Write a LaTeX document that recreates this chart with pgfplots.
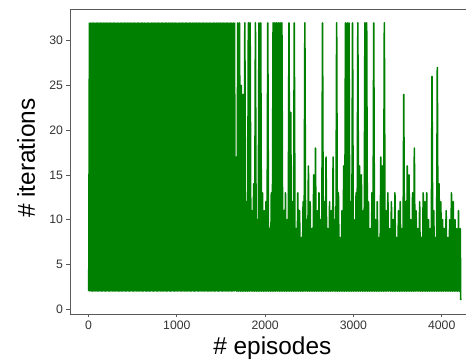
\documentclass[border=0pt]{standalone}
\usepackage{pgfplots}
\pgfplotsset{compat=1.18}
\usepackage{fontspec}
\setmainfont{Liberation Sans}
\definecolor{mplgreen}{RGB}{0,128,0}
\begin{document}
\begin{tikzpicture}
\useasboundingbox (-70bp,-48bp) rectangle (396bp,314bp);
\begin{axis}[
  anchor=south west, at={(0,0)},
  scale only axis, width=396bp, height=305bp,
  xmin=-210, xmax=4275, ymin=-0.55, ymax=33.55,
  axis y line*=left,
  xtick pos=bottom, ytick pos=left,
  tick align=outside,
  major tick length=3.5bp,
  xtick={0,1000,2000,3000,4000},
  ytick={0,5,10,15,20,25,30},
  minor tick num=0,
  axis line style={-, black!65, line width=0.8bp},
  every tick/.style={black!65, line width=0.8bp},
  tick label style={font=\fontsize{12.3}{14}\selectfont, text=black!80},
  /pgf/number format/assume math mode=true,
  /pgf/number format/1000 sep={},
  scaled ticks=false,
  xlabel={\# episodes}, ylabel={\# iterations},
  label style={font=\fontsize{24.5}{28}\selectfont},
  xlabel style={at={(axis description cs:0.511,-0.134)}, anchor=base},
  ylabel style={at={(axis description cs:-0.111,0.511)}, anchor=center},
]
% dense early phase (0 - 1656)
\addplot[mplgreen, line width=1.2bp, line join=round] coordinates {
(0,2)(8,32)(16,2)(24,32)(32,2)(40,32)(48,2)(56,32)(64,2)(72,32)
(80,2)(88,32)(96,2)(104,32)(112,2)(120,32)(128,2)(136,32)(144,2)(152,32)
(160,2)(168,32)(176,2)(184,32)(192,2)(200,32)(208,2)(216,32)(224,2)(232,32)
(240,2)(248,32)(256,2)(264,32)(272,2)(280,32)(288,2)(296,32)(304,2)(312,32)
(320,2)(328,32)(336,2)(344,32)(352,2)(360,32)(368,2)(376,32)(384,2)(392,32)
(400,2)(408,32)(416,2)(424,32)(432,2)(440,32)(448,2)(456,32)(464,2)(472,32)
(480,2)(488,32)(496,2)(504,32)(512,2)(520,32)(528,2)(536,32)(544,2)(552,32)
(560,2)(568,32)(576,2)(584,32)(592,2)(600,32)(608,2)(616,32)(624,2)(632,32)
(640,2)(648,32)(656,2)(664,32)(672,2)(680,32)(688,2)(696,32)(704,2)(712,32)
(720,2)(728,32)(736,2)(744,32)(752,2)(760,32)(768,2)(776,32)(784,2)(792,32)
(800,2)(808,32)(816,2)(824,32)(832,2)(840,32)(848,2)(856,32)(864,2)(872,32)
(880,2)(888,32)(896,2)(904,32)(912,2)(920,32)(928,2)(936,32)(944,2)(952,32)
(960,2)(968,32)(976,2)(984,32)(992,2)(1000,32)(1008,2)(1016,32)(1024,2)(1032,32)
(1040,2)(1048,32)(1056,2)(1064,32)(1072,2)(1080,32)(1088,2)(1096,32)(1104,2)(1112,32)
(1120,2)(1128,32)(1136,2)(1144,32)(1152,2)(1160,32)(1168,2)(1176,32)(1184,2)(1192,32)
(1200,2)(1208,32)(1216,2)(1224,32)(1232,2)(1240,32)(1248,2)(1256,32)(1264,2)(1272,32)
(1280,2)(1288,32)(1296,2)(1304,32)(1312,2)(1320,32)(1328,2)(1336,32)(1344,2)(1352,32)
(1360,2)(1368,32)(1376,2)(1384,32)(1392,2)(1400,32)(1408,2)(1416,32)(1424,2)(1432,32)
(1440,2)(1448,32)(1456,2)(1464,32)(1472,2)(1480,32)(1488,2)(1496,32)(1504,2)(1512,32)
(1520,2)(1528,32)(1536,2)(1544,32)(1552,2)(1560,32)(1568,2)(1576,32)(1584,2)(1592,32)
(1600,2)(1608,32)(1616,2)(1624,32)(1632,2)(1640,32)(1648,2)(1656,32)(1662,2)
};
% later phase (1660 - 4215)
\addplot[mplgreen, line width=1.6bp, line join=round] coordinates {
(1660,2)(1670,17)(1680,2)(1690,32)(1700,2)(1710,32)(1720,2)(1730,25)(1740,2)(1750,24)
(1760,2)(1770,32)(1780,2)(1790,12)(1800,2)(1810,32)(1820,2)(1830,32)(1840,2)(1850,11)
(1860,2)(1870,14)(1880,2)(1890,32)(1900,2)(1910,10)(1920,2)(1930,32)(1940,2)(1950,32)
(1960,2)(1970,13)(1980,2)(1990,11)(2000,2)(2010,12)(2020,2)(2030,32)(2040,2)(2050,9)
(2060,2)(2070,13)(2080,2)(2090,32)(2100,2)(2110,32)(2120,2)(2130,32)(2140,2)(2150,32)
(2160,2)(2170,32)(2180,2)(2190,32)(2200,2)(2210,11)(2220,2)(2230,13)(2240,2)(2250,10)
(2260,2)(2270,32)(2280,2)(2290,22)(2300,2)(2310,12)(2320,2)(2330,32)(2340,2)(2350,9)
(2360,2)(2370,13)(2380,2)(2390,11)(2400,2)(2410,8)(2420,2)(2430,12)(2440,2)(2450,32)
(2460,2)(2470,10)(2480,2)(2490,16)(2500,2)(2510,12)(2520,2)(2530,9)(2540,2)(2550,15)
(2560,2)(2570,18)(2580,2)(2590,11)(2600,2)(2610,13)(2620,2)(2630,10)(2640,2)(2650,32)
(2660,2)(2670,12)(2680,2)(2690,17)(2700,2)(2710,9)(2720,2)(2730,12)(2740,2)(2750,11)
(2760,2)(2770,17)(2780,2)(2790,10)(2800,2)(2810,32)(2820,2)(2830,13)(2840,2)(2850,8)
(2860,2)(2870,11)(2880,2)(2890,16)(2900,2)(2910,32)(2920,2)(2930,32)(2940,2)(2950,32)
(2960,2)(2970,12)(2980,2)(2990,32)(3000,2)(3010,10)(3020,2)(3030,13)(3040,2)(3050,32)
(3060,2)(3070,16)(3080,2)(3090,15)(3100,2)(3110,11)(3120,2)(3130,32)(3140,2)(3150,32)
(3160,2)(3170,12)(3180,2)(3190,9)(3200,2)(3210,13)(3220,2)(3230,32)(3240,2)(3250,10)
(3260,2)(3270,12)(3280,2)(3290,8)(3300,2)(3310,17)(3320,2)(3330,16)(3340,2)(3350,32)
(3360,2)(3370,11)(3380,2)(3390,13)(3400,2)(3410,9)(3420,2)(3430,12)(3440,2)(3450,10)
(3460,2)(3470,13)(3480,2)(3490,8)(3500,2)(3510,11)(3520,2)(3530,12)(3540,2)(3550,9)
(3560,2)(3570,24)(3580,2)(3590,12)(3600,2)(3610,16)(3620,2)(3630,15)(3640,2)(3650,10)
(3660,2)(3670,13)(3680,2)(3690,18)(3700,2)(3710,11)(3720,2)(3730,9)(3740,2)(3750,12)
(3760,2)(3770,8)(3780,2)(3790,13)(3800,2)(3810,12)(3820,2)(3830,13)(3840,2)(3850,10)
(3860,2)(3870,9)(3880,2)(3890,26)(3900,2)(3910,11)(3920,2)(3930,8)(3940,2)(3950,27)
(3960,2)(3970,14)(3980,2)(3990,12)(4000,2)(4010,10)(4020,2)(4030,9)(4040,2)(4050,11)
(4060,2)(4070,8)(4080,2)(4090,10)(4100,2)(4110,13)(4120,2)(4130,12)(4140,2)(4150,10)
(4160,2)(4170,9)(4180,2)(4190,11)(4200,2)(4210,9)(4215,1)
};
\end{axis}
\end{tikzpicture}
\end{document}
